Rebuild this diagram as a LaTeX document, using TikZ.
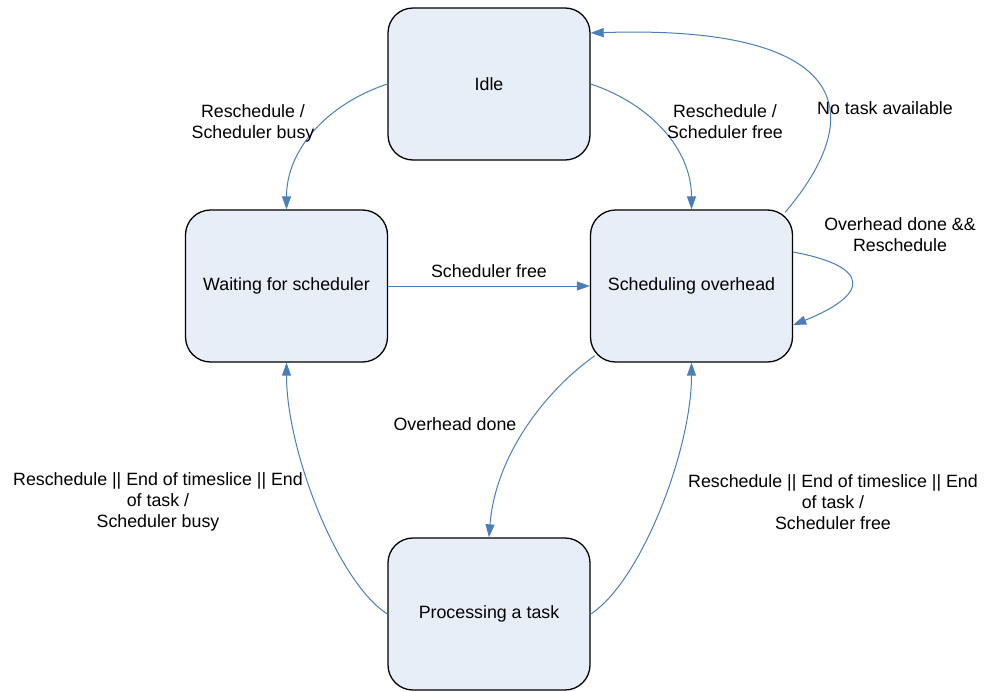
\documentclass[tikz,border=0pt]{standalone}
\usepackage{fontspec}
\setmainfont{Liberation Sans}
\usetikzlibrary{arrows.meta}
\definecolor{statefill}{RGB}{232,238,247}
\definecolor{linkblue}{RGB}{74,126,187}

\begin{document}
\begin{tikzpicture}[x=0.5pt,y=-0.5pt,
    state/.style={draw=black,line width=0.65pt,fill=statefill,rounded corners=12.5pt,
        minimum width=101pt,minimum height=76pt,inner sep=0pt,font=\fontsize{8.9}{10.4}\selectfont},
    link/.style={draw=linkblue,line width=0.5pt,-{Triangle[length=6.5pt,width=4.5pt]}},
    lbl/.style={align=center,inner sep=0pt,font=\fontsize{8.9}{10.4}\selectfont}]
    	% border
    	\useasboundingbox (0,0) rectangle (985,691);
    	% states
    	\node[state] (idle)  at (489,84)    {Idle};
    	\node[state] (wait)  at (286.5,286) {Waiting for scheduler};
    	\node[state] (sched) at (691.5,286) {Scheduling overhead};
    	\node[state] (proc)  at (489,614)   {Processing a task};
    	% from idle
    	\draw[link] (idle.west) .. controls +(-60,20) and +(0,-60) .. (wait.north);
    	\node[lbl] (busyidle) at (253,123) {Reschedule /\\Scheduler busy};
    	\draw[link] (idle.east) .. controls +(60,20) and +(0,-60) .. (sched.north);
    	\node[lbl] (freeidle) at (725,122) {Reschedule /\\Scheduler free};
    	% back to idle
    	\draw[link] ([shift={(-8,3)}]sched.north east) .. controls (880,100) and (830,25) .. ([shift={(0,-51)}]idle.east);
    	\node[lbl] (notask) at (885,108) {No task available};
    	% waiting to overhead
    	\draw[link] (wait.east) -- (sched.west);
    	\node[lbl] (schedfree) at (489,271) {Scheduler free};
    	% self loop
    	\draw[link] ([shift={(0,-34)}]sched.east) .. controls +(80,15) and +(75,-30) .. ([shift={(0,39)}]sched.east);
    	\node[lbl] (loopdone) at (900,235) {Overhead done \&\&\\Reschedule};
    	% overhead to processing
    	\draw[link] ([shift={(5,-7)}]sched.south west) .. controls (540,395) and (495,460) .. (proc.north);
    	\node[lbl] (ovdone) at (455,424) {Overhead done};
    	% leaving processing
    	\draw[link] (proc.east) .. controls +(50,-32) and +(0,88) .. (sched.south);
    	\node[lbl] (endfree) at (833,502) {Reschedule || End of timeslice || End\\of task /\\Scheduler free};
    	\draw[link] (proc.west) .. controls +(-50,-32) and +(0,88) .. (wait.south);
    	\node[lbl] (endbusy) at (158,502) {Reschedule || End of timeslice || End\\of task /\\Scheduler busy};
	\end{tikzpicture}
\end{document}
